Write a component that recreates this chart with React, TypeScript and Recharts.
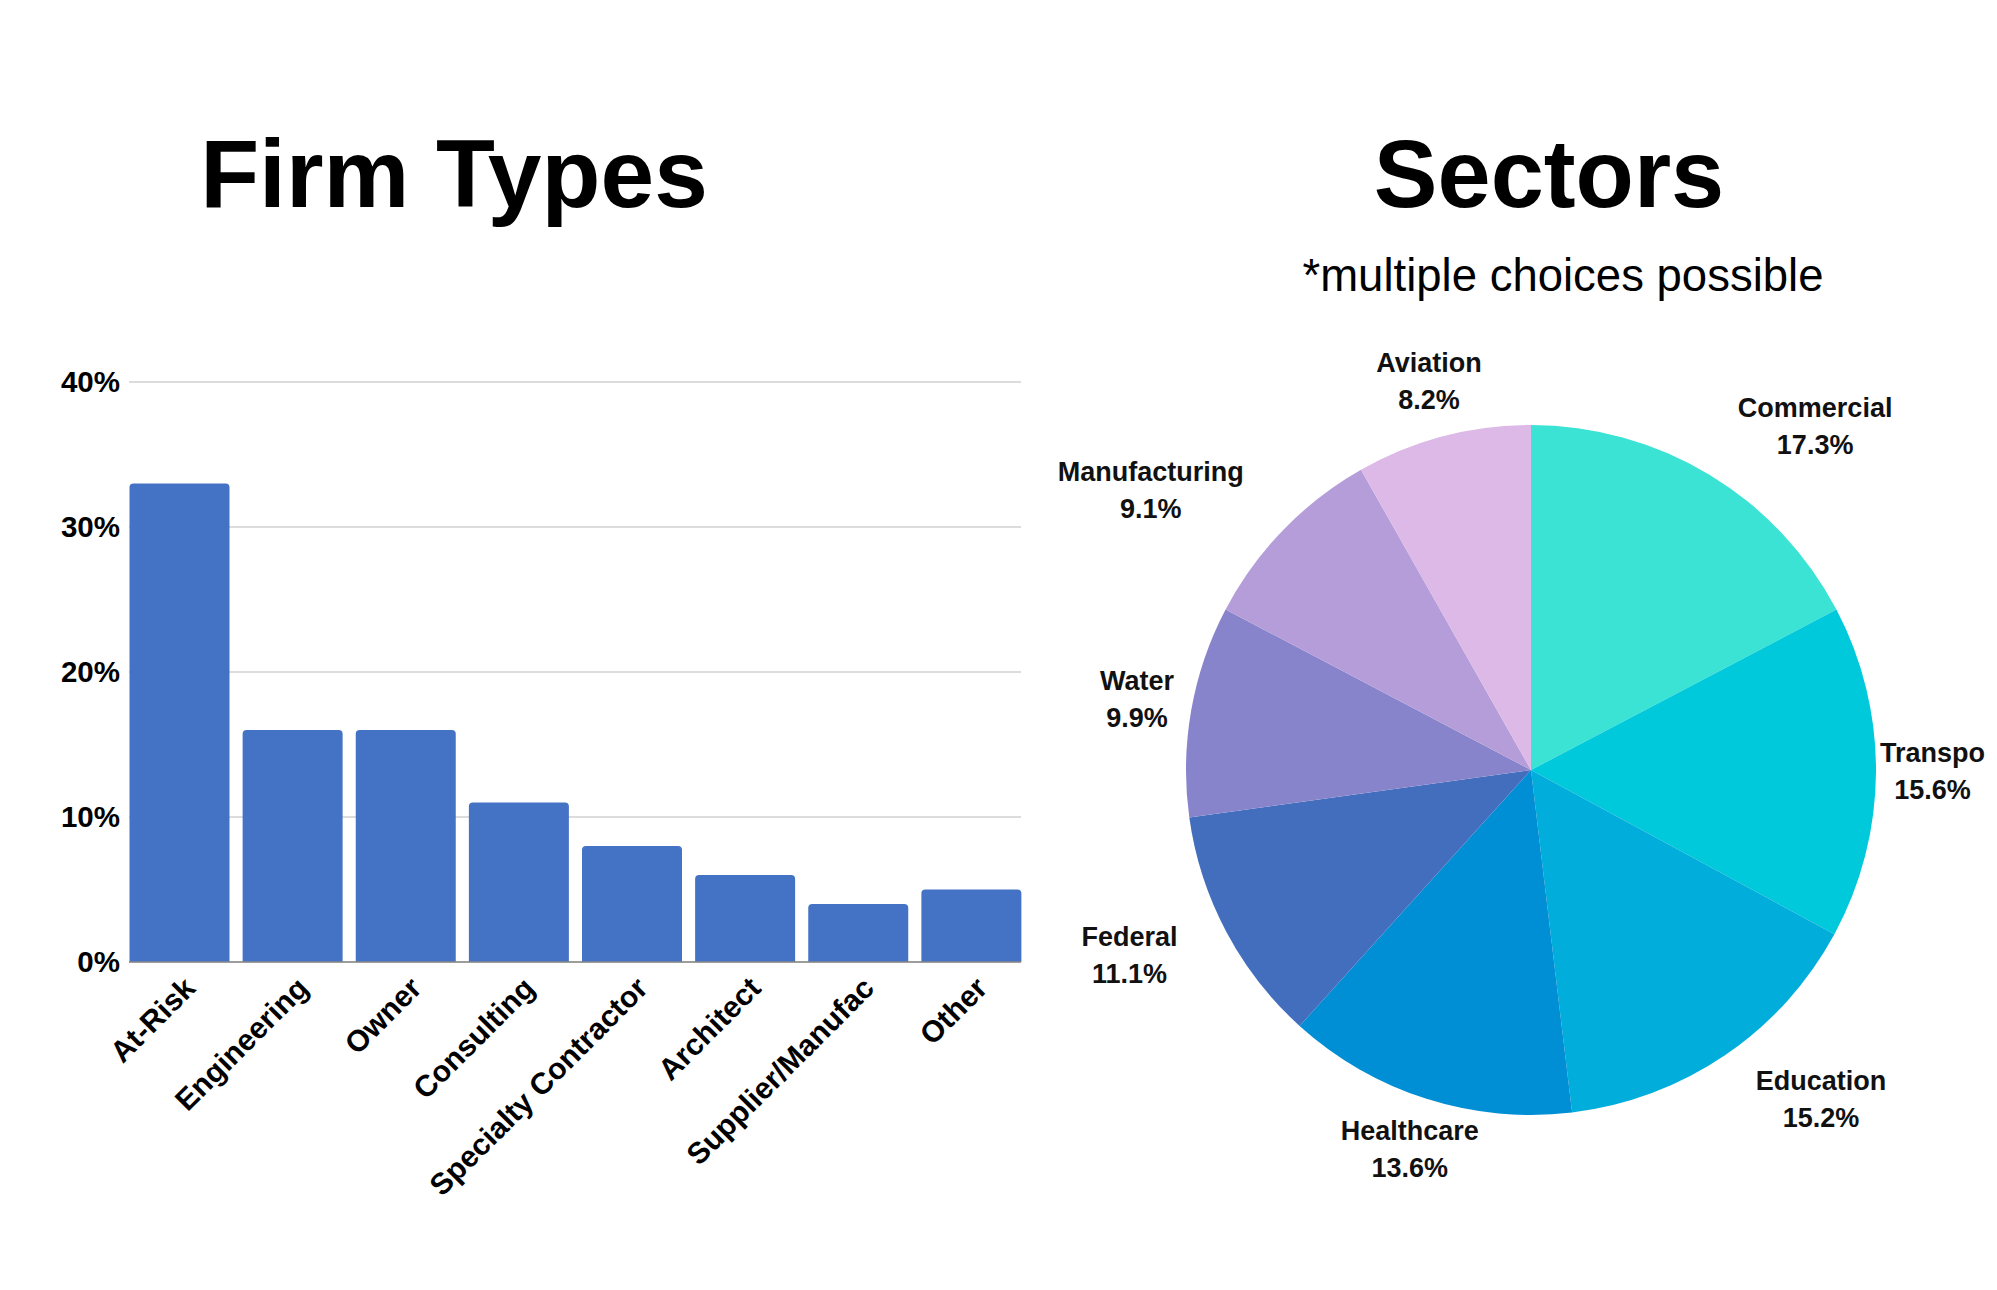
import React from 'react';
import { Bar, BarChart, CartesianGrid, Cell, Pie, PieChart, XAxis, YAxis } from 'recharts';

const FONT = '"Liberation Sans", Arial, sans-serif';

// firm types (bar chart)
const firmTypes = ['At-Risk', 'Engineering', 'Owner', 'Consulting', 'Specialty Contractor', 'Architect', 'Supplier/Manufac', 'Other'];
const firmShares = [33, 16, 16, 11, 8, 6, 4, 5];
const yTicks = [0, 10, 20, 30, 40];

// sectors (pie chart)
const sectors = ['Commercial', 'Transpo', 'Education', 'Healthcare', 'Federal', 'Water', 'Manufacturing', 'Aviation'];
const sectorShares = [17.3, 15.6, 15.2, 13.6, 11.1, 9.9, 9.1, 8.2];
const sectorColors = ['#3be3d5', '#00c9db', '#00addb', '#008ed4', '#436ebe', '#8884cb', '#b49dd9', '#dcb9e6'];

const barData = firmTypes.map((name, i) => ({ name, share: firmShares[i] }));
const pieData = sectors.map((name, i) => ({ name, value: sectorShares[i] }));

const PIE_W = 957;
const LABEL_SIZE = 27;

let ctx: CanvasRenderingContext2D | null = null;
const measure = (s: string) => {
	if (!ctx) ctx = document.createElement('canvas').getContext('2d');
	if (!ctx) return s.length * LABEL_SIZE * 0.6;
	ctx.font = `bold ${LABEL_SIZE}px ${FONT}`;
	return ctx.measureText(s).width;
};

const XTick = ({ x, y, payload }: any) => (
	<g transform={`translate(${x + 18},${y + 24})`}>
		<text transform='rotate(-45)' textAnchor='end' fontSize={30} fontWeight='bold' fill='#000' fontFamily={FONT}>
			{payload.value}
		</text>
	</g>
);

// label box sits at a fixed radius; if it would touch the pie, push it sideways by half its width
const SectorLabel = (props: any) => {
	const { cx, cy, midAngle, outerRadius, name, value } = props;
	const rad = (midAngle * Math.PI) / 180;
	const c = Math.cos(rad);
	const s = Math.sin(rad);
	const pct = `${Number(value).toFixed(1)}%`;
	const w = Math.max(measure(name), measure(pct));
	const h = 56;
	const r0 = outerRadius + 55;
	let dx = r0 * c;
	const dy = -r0 * s;
	const nx = Math.max(0, Math.abs(dx) - w / 2);
	const ny = Math.max(0, Math.abs(dy) - h / 2);
	if (Math.hypot(nx, ny) < outerRadius + 4) dx += Math.sign(c) * (w / 2);
	let bx = cx + dx;
	bx = Math.min(bx, PIE_W - 12 - w / 2);
	const by = cy + dy;
	return (
		<g>
			<text x={bx} y={by - 11} textAnchor='middle' fontSize={LABEL_SIZE} fontWeight='bold' fill='#111' fontFamily={FONT}>
				{name}
			</text>
			<text x={bx} y={by + 26} textAnchor='middle' fontSize={LABEL_SIZE} fontWeight='bold' fill='#111' fontFamily={FONT}>
				{pct}
			</text>
		</g>
	);
};

export default function App() {
	return (
		<div style={{ position: 'absolute', left: 0, top: 0, width: 1997, height: 1290, background: '#fff', overflow: 'hidden' }}>
			<svg width={1997} height={1290} style={{ position: 'absolute', left: 0, top: 0 }}>
				<text x={454} y={207} textAnchor='middle' fontSize={96.5} fontWeight='bold' fontFamily={FONT} fill='#000'>
					Firm Types
				</text>
				<text x={1549} y={207} textAnchor='middle' fontSize={95.5} fontWeight='bold' fontFamily={FONT} fill='#000'>
					Sectors
				</text>
				<text x={1563} y={291} textAnchor='middle' fontSize={45.5} fontFamily={FONT} fill='#000'>
					*multiple choices possible
				</text>
			</svg>

			<div style={{ position: 'absolute', left: 0, top: 0 }}>
				<BarChart width={1040} height={1290} data={barData} margin={{ top: 382, right: 19, bottom: 128, left: 0 }}>
					<CartesianGrid vertical={false} stroke='#d0d0d0' strokeWidth={1.5} />
					<XAxis
						dataKey='name'
						interval={0}
						height={200}
						padding={{ left: -6.5, right: -6.5 }}
						tickLine={false}
						tickSize={0}
						tickMargin={4}
						axisLine={{ stroke: '#888', strokeWidth: 1.5 }}
						tick={<XTick />}
					/>
					<YAxis
						width={129}
						domain={[0, 40]}
						ticks={yTicks}
						tickFormatter={(v) => `${v}%`}
						axisLine={false}
						tickLine={false}
						tickSize={0}
						tickMargin={9}
						tick={{ fontSize: 29.5, fontWeight: 'bold', fill: '#000', fontFamily: FONT }}
					/>
					<Bar dataKey='share' fill='#4472c4' barSize={100} radius={[4, 4, 0, 0]} isAnimationActive={false} />
				</BarChart>
			</div>

			<div style={{ position: 'absolute', left: 1040, top: 0 }}>
				<PieChart width={PIE_W} height={1290} margin={{ top: 0, right: 0, bottom: 0, left: 0 }}>
					<Pie
						data={pieData}
						dataKey='value'
						nameKey='name'
						cx={491}
						cy={770}
						outerRadius={345}
						startAngle={90}
						endAngle={-270}
						stroke='none'
						labelLine={false}
						label={SectorLabel}
						isAnimationActive={false}
					>
						{pieData.map((d, i) => (
							<Cell key={d.name} fill={sectorColors[i]} />
						))}
					</Pie>
				</PieChart>
			</div>
		</div>
	);
}
